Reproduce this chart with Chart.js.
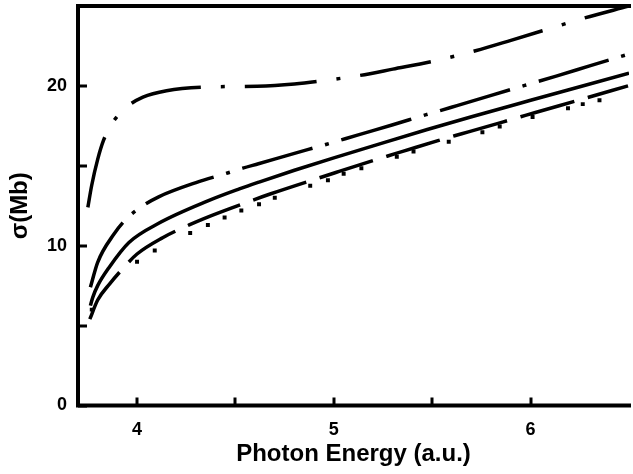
<!DOCTYPE html>
<html>
<head>
<meta charset="utf-8">
<script src="https://cdn.jsdelivr.net/npm/chart.js@4"></script>
<style>
  html, body { margin: 0; padding: 0; background: #fff; }
  canvas { display: block; }
</style>
</head>
<body>
<canvas id="c" width="633" height="474"></canvas>
<script>
// ---- data ----
const xTicks = [4, 4.5, 5, 5.5, 6];
const yTicks = [0, 5, 10, 15, 20];

const dashDotDotX = [3.75, 3.77, 3.80, 3.83, 3.87, 3.95, 4.03, 4.15, 4.38, 4.61, 4.80, 4.96, 5.13, 5.30, 5.525, 5.72, 5.90, 6.14, 6.26, 6.50];
const dashDotDotY = [12.4, 13.8, 15.4, 16.6, 17.6, 18.7, 19.3, 19.7, 19.94, 19.98, 20.12, 20.35, 20.65, 21.05, 21.6, 22.2, 22.85, 23.75, 24.2, 25.0];

const dashDotX = [3.763, 3.80, 3.883, 3.95, 4.03, 4.11, 4.30, 4.46, 4.537, 4.617, 4.80, 4.964, 5.12, 5.30, 5.47, 5.545, 5.626, 5.80, 5.97, 6.13, 6.30, 6.495];
const dashDotY = [7.4, 8.96, 10.73, 11.73, 12.5, 13.06, 13.95, 14.55, 14.85, 15.13, 15.78, 16.35, 16.92, 17.57, 18.2, 18.47, 18.77, 19.41, 20.03, 20.61, 21.25, 21.98];

const solidX = [3.763, 3.775, 3.80, 3.858, 3.959, 4.11, 4.36, 4.52, 4.62, 4.80, 5.00, 5.20, 5.475, 5.70, 6.00, 6.25, 6.50];
const solidY = [6.25, 6.77, 7.5, 8.64, 10.2, 11.4, 12.8, 13.55, 13.98, 14.72, 15.5, 16.25, 17.27, 18.07, 19.1, 19.95, 20.8];

const dashedX = [3.76, 3.80, 3.86, 3.93, 4.00, 4.13, 4.265, 4.34, 4.60, 4.68, 4.94, 5.01, 5.27, 5.35, 5.525, 5.614, 5.684, 5.95, 6.02, 6.25, 6.495];
const dashedY = [5.4, 6.6, 7.6, 8.6, 9.48, 10.5, 11.3, 11.7, 12.9, 13.25, 14.3, 14.58, 15.6, 15.9, 16.56, 16.88, 17.12, 18.07, 18.32, 19.13, 20.0];

const squaresX = [3.77, 4.00, 4.09, 4.27, 4.36, 4.445, 4.53, 4.62, 4.70, 4.88, 4.97, 5.05, 5.14, 5.32, 5.405, 5.584, 5.755, 5.843, 6.01, 6.19, 6.265, 6.35];
const squaresY = [6.0, 9.0, 9.7, 10.8, 11.3, 11.77, 12.2, 12.6, 13.0, 13.75, 14.1, 14.5, 14.85, 15.56, 15.9, 16.5, 17.1, 17.46, 18.06, 18.6, 18.86, 19.1];

const xTitle = 'Photon Energy (a.u.)';
const yTitle = 'σ(Mb)';

// ---- build ----
const zip = (xs, ys) => xs.map((x, i) => ({ x: x, y: ys[i] }));
const FONT = "'Liberation Sans', Arial, Helvetica, sans-serif";

function curve(xs, ys, dash) {
  return {
    data: zip(xs, ys),
    showLine: true,
    borderColor: '#000',
    backgroundColor: '#000',
    borderWidth: 3.5,
    borderDash: dash,
    borderCapStyle: 'butt',
    pointRadius: 0,
    cubicInterpolationMode: 'monotone',
    tension: 0.4
  };
}

const frame = {
  id: 'frame',
  afterDatasetsDraw(chart) {
    const { ctx, chartArea: a, scales: { x, y } } = chart;
    ctx.save();
    ctx.strokeStyle = '#000';
    ctx.lineWidth = 4;
    ctx.beginPath();
    ctx.moveTo(a.right + 2, a.top);
    ctx.lineTo(a.left, a.top);
    ctx.lineTo(a.left, a.bottom);
    ctx.lineTo(a.right + 2, a.bottom);
    ctx.stroke();
    ctx.lineWidth = 3;
    ctx.beginPath();
    x.ticks.forEach(t => {
      const px = Math.round(x.getPixelForValue(t.value));
      ctx.moveTo(px, a.bottom);
      ctx.lineTo(px, a.bottom - 8);
    });
    y.ticks.forEach(t => {
      const py = Math.round(y.getPixelForValue(t.value));
      ctx.moveTo(a.left, py);
      ctx.lineTo(a.left + 9, py);
    });
    ctx.stroke();
    ctx.restore();
  }
};

new Chart(document.getElementById('c'), {
  type: 'scatter',
  data: {
    datasets: [
      curve(dashDotDotX, dashDotDotY, [72, 20, 4, 20]),
      curve(dashDotX, dashDotY, [73, 13, 4, 13]),
      curve(solidX, solidY, []),
      curve(dashedX, dashedY, [56, 14]),
      {
        data: zip(squaresX, squaresY),
        showLine: false,
        pointStyle: 'rect',
        pointRadius: 2.8,
        pointBorderWidth: 0,
        backgroundColor: '#000',
        borderColor: '#000'
      }
    ]
  },
  options: {
    responsive: false,
    animation: false,
    layout: { padding: { left: 0, top: 6, right: 0, bottom: 0 } },
    plugins: { legend: { display: false }, tooltip: { enabled: false } },
    scales: {
      x: {
        type: 'linear',
        min: 3.7,
        max: 6.5,
        afterBuildTicks: s => { s.ticks = xTicks.map(v => ({ value: v })); },
        afterFit: s => { s.height = 68.5; s.paddingLeft = 0; s.paddingRight = 0; },
        grid: { display: false, drawTicks: false },
        border: { display: false },
        ticks: {
          autoSkip: false,
          maxRotation: 0,
          padding: 14,
          color: '#000',
          font: { family: FONT, size: 18, weight: 'bold' },
          callback: v => (Number.isInteger(v) ? String(v) : '')
        },
        title: {
          display: true,
          text: xTitle,
          color: '#000',
          font: { family: FONT, size: 24, weight: 'bold' },
          padding: { top: 0, bottom: 5 }
        }
      },
      y: {
        type: 'linear',
        min: 0,
        max: 25,
        afterBuildTicks: s => { s.ticks = yTicks.map(v => ({ value: v })); },
        afterFit: s => { s.width = 78; s.paddingTop = 0; s.paddingBottom = 0; },
        grid: { display: false, drawTicks: false },
        border: { display: false },
        ticks: {
          autoSkip: false,
          padding: 11,
          color: '#000',
          font: { family: FONT, size: 18, weight: 'bold' },
          callback: v => (v % 10 === 0 ? String(v) : '')
        },
        title: {
          display: true,
          text: yTitle,
          color: '#000',
          font: { family: FONT, size: 24, weight: 'bold' },
          padding: { top: 6, bottom: 0 }
        }
      }
    }
  },
  plugins: [frame]
});
</script>
</body>
</html>
